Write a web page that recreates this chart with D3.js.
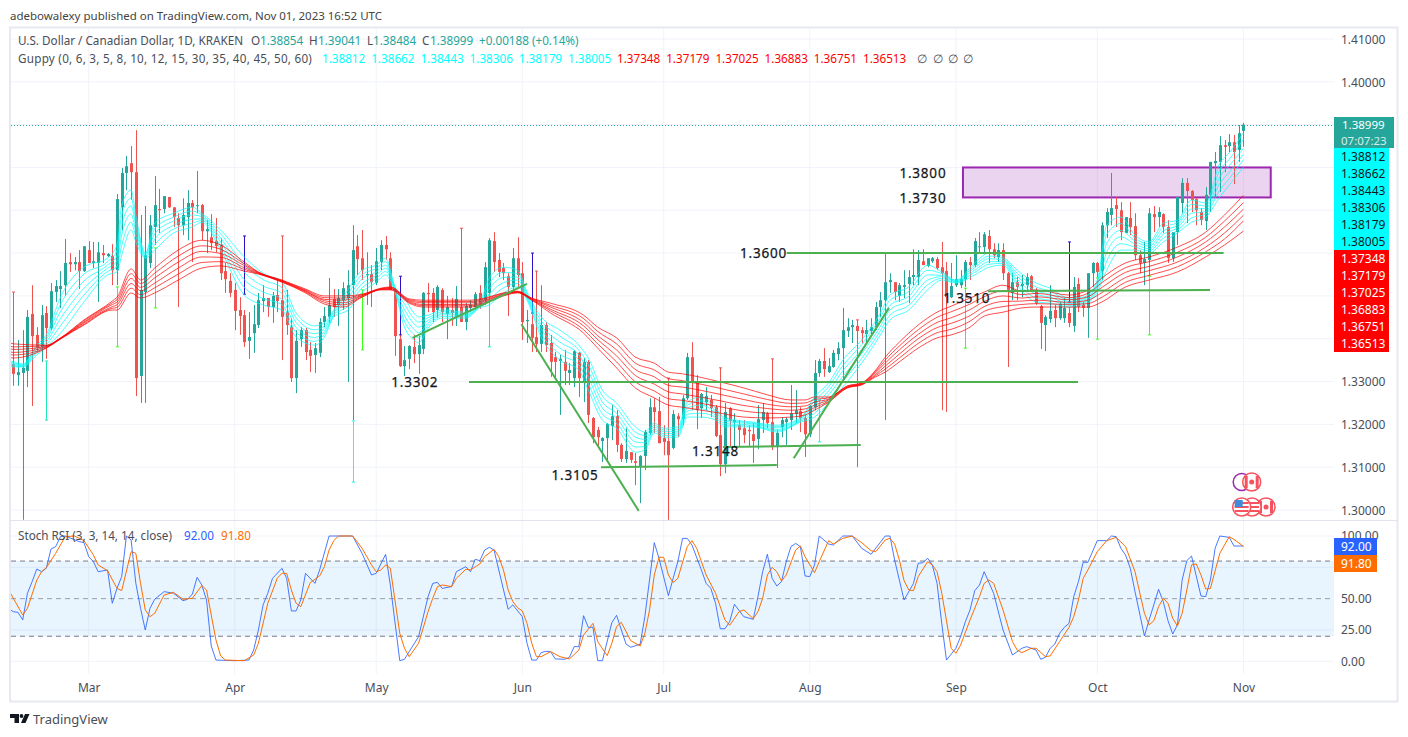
<!DOCTYPE html>
<html>
<head>
<meta charset="utf-8">
<script src="https://cdn.jsdelivr.net/npm/d3@7"></script>
<style>
  html, body { margin: 0; padding: 0; background: #fff; }
  svg { display: block; }
  text { font-family: "Noto Sans", sans-serif; }
</style>
</head>
<body>
<svg id="chart" width="1408" height="737"></svg>
<script>
// candle rows are [open, high, low, close] in pips above 1.3000
const febCandles = [[341,509,290,318],[315,397,290,322],[320,420,-23,332],[325,467,287,451],[458,525,243,406],[409,427,369,378],[381,479,346,455],[460,476,353,425],[425,530,420,511],[509,537,486,523],[516,558,472,523],[525,633,500,577],[579,600,556,574],[574,591,560,579],[579,607,516,558],[558,616,556,616]];
const marCandles = [[607,628,577,577],[577,626,565,581],[577,626,486,602],[600,619,577,595],[593,600,591,598],[593,621,525,560],[560,738,525,726],[707,799,654,787],[787,827,747,803],[810,850,724,789],[789,887,266,308],[313,689,250,514],[509,710,250,595],[577,689,565,665],[661,780,619,712],[703,750,647,700],[703,733,693,733],[731,731,705,707],[707,707,661,684],[682,693,474,665],[665,728,642,689],[684,747,630,717],[717,724,579,707],[710,792,693,712],[712,715,630,651],[651,677,600,656],[637,691,607,623],[628,682,602,616],[619,635,537,553],[558,577,507,539],[535,553,497,507]];
const aprCandles = [[514,530,420,465],[467,497,409,453],[455,467,381,392],[395,462,353,404],[413,479,367,434],[432,507,425,490],[488,525,462,495],[495,495,451,474],[474,509,437,500],[502,537,462,488],[490,640,350,451],[462,514,409,432],[427,448,299,308],[308,420,273,395],[399,427,381,420],[420,425,350,369],[374,392,322,360],[362,390,320,378],[367,448,357,439],[439,474,427,453],[451,542,437,479],[493,516,451,474],[479,516,430,495],[490,532,467,518],[495,560,299,525],[525,665,210,607],[616,642,549,586],[588,654,537,560],[549,602,479,551],[551,572,474,532]];
const mayCandles = [[530,612,525,581],[579,630,560,619],[619,640,584,609],[588,602,514,514],[509,518,360,406],[399,409,334,336],[336,383,313,350],[353,385,329,383],[381,409,343,364],[364,406,318,385],[376,509,364,507],[507,530,462,504],[507,518,439,462],[467,525,448,521],[514,518,439,462],[458,500,399,474],[467,495,430,460],[451,523,430,493],[474,658,439,439],[439,483,420,476],[472,490,462,479],[474,509,467,504],[507,525,470,479],[490,579,479,567],[507,635,502,630],[628,649,556,579],[584,600,544,556],[565,577,537,553],[546,553,453,521],[521,612,514,588],[588,637,521,549]];
const junCandles = [[553,579,397,439],[441,467,390,444],[434,462,369,402],[404,558,369,388],[388,525,369,432],[432,439,369,385],[390,409,311,346],[357,369,304,346],[348,362,222,353],[346,374,292,325],[320,343,292,327],[308,374,287,371],[367,369,264,308],[297,355,252,346],[346,350,203,222],[215,217,156,170],[187,194,147,170],[161,170,112,168],[168,203,112,201],[196,245,163,219],[219,233,135,152],[152,156,112,119],[119,191,110,138],[135,135,110,117],[114,133,58,110],[103,128,16,126],[126,187,93,182],[180,261,175,240],[240,261,180,229],[231,264,156,156]];
const julCandles = [[168,198,128,159],[161,308,-23,128],[145,233,142,224],[219,226,170,212],[212,268,198,261],[261,367,257,357],[357,392,233,299],[299,315,189,233],[238,273,215,271],[252,287,233,266],[257,269,217,238],[240,245,170,173],[175,332,79,107],[107,250,86,229],[238,240,147,208],[205,226,147,210],[198,210,147,187],[191,210,156,175],[187,198,147,184],[177,203,110,161],[166,245,142,212],[210,250,180,229],[226,229,191,203],[205,353,140,147],[147,187,98,180],[194,217,170,210],[205,217,152,212],[210,292,187,226],[224,280,203,233],[231,240,182,215],[215,222,124,177]];
const augCandles = [[177,245,170,243],[240,350,233,320],[320,353,311,348],[348,378,311,329],[322,355,320,336],[334,374,332,367],[364,392,350,378],[378,472,304,420],[418,448,404,427],[427,444,390,432],[430,444,100,418],[420,427,390,413],[411,444,390,420],[418,448,409,427],[427,486,420,474],[474,509,451,490],[490,600,210,532],[532,553,507,537],[532,532,490,509],[500,530,486,525],[521,560,495,525],[528,560,483,544],[544,609,525,549],[544,607,525,584],[581,609,572,572],[570,588,567,588],[581,591,577,588],[586,591,560,565],[567,626,233,553],[558,579,229,497],[497,577,495,523]];
const sepCandles = [[525,595,521,539],[525,560,518,539],[539,584,521,579],[579,591,537,572],[572,635,567,628],[614,649,600,616],[614,649,600,644],[640,654,577,609],[609,623,588,595],[591,623,579,607],[607,623,537,553],[553,556,334,514],[507,553,490,532],[532,544,490,521],[523,549,497,528],[525,553,509,544],[546,549,509,514],[514,518,479,483],[476,479,376,437],[432,455,371,451],[446,525,437,465],[467,479,427,448],[448,486,444,481],[448,495,437,472],[460,474,427,437],[430,544,416,521],[528,542,462,474],[479,486,451,472],[472,553,402,553],[553,579,521,577]];
const octCandles = [[577,579,542,556],[558,672,537,665],[665,705,635,696],[689,787,665,705],[712,731,661,703],[700,719,630,649],[647,684,647,684],[682,719,642,661],[663,693,584,595],[595,607,553,577],[577,626,525,586],[584,705,546,693],[691,710,649,684],[684,707,661,696],[691,693,647,661],[661,677,577,588],[588,649,579,649],[649,731,619,731],[717,775,693,764],[764,775,670,745],[745,747,696,724],[726,729,665,700],[696,705,665,677],[675,754,654,736],[736,813,696,813],[810,836,731,815],[813,873,743,852],[852,864,789,848],[850,878,836,859],[859,876,761,836],[841,899,813,880]];
const novCandles = [[885.4,904.1,848.4,899.9]];

// thin coloured spikes standing beside the candles: [day, high, low, colour]
const spikes = [[7,348,210,"#1de9b6"],[22,521,381,"#39ff14"],[30,612,472,"#39ff14"],[49,640,504,"#2a10c8"],[72,208,65,"#22f5f5"],[74,514,374,"#39ff14"],[82,546,409,"#2a10c8"],[101,502,381,"#1de9b6"],[110,600,460,"#2a10c8"],[171,257,159,"#22f5f5"],[202,518,378,"#39ff14"],[224,626,486,"#2a10c8"],[230,542,399,"#39ff14"],[241,546,409,"#39ff14"]];
const cappedWicks = [0,57,95,111,139,150,161,179];

// Guppy readings: [day, line1 ... line6] top to bottom, pips above 1.3000
const guppyFast = [[-1,350,348,345,342,339,336],[0,346,344,341,339,336,334],[2,341,340,338,337,335,334],[5,385,381,376,371,367,362],[7,409,403,398,392,386,381],[10,497,480,463,447,430,413],[15,567,551,535,518,502,486],[20,588,580,572,565,557,549],[22,619,606,594,581,569,556],[23,712,689,665,642,618,595],[25,747,728,710,691,672,654],[26,689,676,664,651,639,626],[28,600,598,595,593,590,588],[30,670,657,645,632,620,607],[34,693,684,675,665,656,647],[38,707,698,689,679,670,661],[40,693,689,685,680,676,672],[44,654,645,635,626,616,607],[49,591,573,555,538,520,502],[53,553,538,523,509,494,479],[57,532,519,506,493,480,467],[60,460,449,438,426,415,404],[64,430,421,412,403,394,385],[66,437,430,424,417,411,404],[68,467,464,461,457,454,451],[71,514,505,495,486,476,467],[74,560,550,540,529,519,509],[77,572,564,556,548,540,532],[79,588,580,572,565,557,549],[81,521,519,516,514,511,509],[83,495,481,468,454,441,427],[85,460,447,435,422,410,397],[86,451,439,427,414,402,390],[88,455,449,443,437,431,425],[91,467,463,459,456,452,448],[96,462,459,456,454,451,448],[99,486,483,480,478,475,472],[101,542,529,517,504,492,479],[104,567,555,543,531,519,507],[107,560,552,544,537,529,521],[109,509,505,501,498,494,490],[112,451,442,432,423,413,404],[116,420,406,392,378,364,350],[120,385,373,362,350,339,327],[122,355,340,325,310,295,280],[125,280,266,252,238,224,210],[128,250,238,226,215,203,191],[132,194,182,170,159,147,135],[134,182,174,165,157,148,140],[136,203,198,194,189,185,180],[138,191,187,183,178,174,170],[141,194,189,184,180,175,170],[143,252,245,238,231,224,217],[146,264,255,245,236,226,217],[149,238,232,227,221,216,210],[151,215,211,207,202,198,194],[157,205,203,201,198,196,194],[162,198,195,192,188,185,182],[167,215,213,211,209,207,205],[170,264,255,245,236,226,217],[173,297,288,278,269,259,250],[176,350,337,325,312,300,287],[180,397,386,375,365,354,343],[184,460,450,440,429,419,409],[186,502,490,478,467,455,444],[190,521,510,499,489,478,467],[194,572,560,549,537,526,514],[197,556,552,548,545,541,537],[200,537,536,534,533,531,530],[204,577,571,566,560,555,549],[207,600,593,587,580,574,567],[210,591,587,583,580,576,572],[213,560,553,546,539,532,525],[217,530,521,512,504,495,486],[220,518,511,504,497,490,483],[224,495,491,487,482,478,474],[227,497,493,490,486,483,479],[230,537,531,526,520,515,509],[232,665,644,623,602,581,560],[235,684,669,653,638,622,607],[238,642,635,628,621,614,607],[241,626,621,616,610,605,600],[244,670,661,652,644,635,626],[247,677,671,665,659,653,647],[250,724,714,703,693,682,672],[253,717,710,704,697,691,684],[256,810,794,778,763,747,731],[258,834,819,804,789,774,759],[261,881.2,866.2,844.3,830.6,817.9,800.5]];
const guppySlow = [[-1,392,385,378,371,364,357],[0,388,381,375,368,362,355],[7,385,384,382,381,379,378],[10,402,401,401,400,400,399],[15,444,442,439,437,434,432],[21,488,484,480,475,471,467],[22,497,491,485,479,473,467],[25,563,552,541,529,518,507],[27,537,529,520,512,503,495],[30,565,553,542,530,519,507],[35,607,593,579,565,551,537],[40,630,617,604,591,578,565],[44,619,609,599,590,580,570],[49,579,575,571,566,562,558],[52,556,555,554,553,552,551],[57,537,536,535,534,533,532],[62,516,514,512,511,509,507],[66,500,496,492,489,485,481],[70,500,495,490,484,479,474],[74,504,503,501,500,498,497],[78,518,517,516,516,515,514],[80,521,520,518,517,515,514],[84,493,491,489,487,485,483],[87,490,487,484,480,477,474],[94,490,487,484,480,477,474],[97,490,487,484,480,477,474],[100,495,493,490,488,485,483],[104,507,506,504,503,501,500],[107,511,510,509,509,508,507],[110,495,494,493,492,491,490],[114,483,478,474,469,465,460],[121,455,447,438,430,421,413],[124,427,417,407,398,388,378],[128,402,388,374,360,346,332],[132,357,343,328,314,299,285],[136,343,327,311,294,278,262],[139,322,307,291,276,260,245],[142,318,302,287,271,256,240],[150,299,284,270,255,241,226],[155,285,271,258,244,231,217],[160,269,258,247,237,226,215],[165,257,249,241,233,225,217],[168,257,250,243,236,229,222],[170,264,258,252,245,239,233],[173,264,262,259,257,254,252],[177,290,289,288,287,286,285],[180,297,296,295,294,293,292],[183,327,324,321,317,314,311],[185,357,350,343,336,329,322],[188,392,383,374,364,355,346],[192,432,421,410,400,389,378],[196,462,450,438,426,414,402],[199,476,463,449,436,422,409],[203,495,481,468,454,441,427],[206,509,498,487,475,464,453],[210,525,512,500,487,475,462],[214,511,503,495,488,480,472],[217,514,506,498,490,482,474],[224,502,496,491,485,480,474],[228,514,506,498,490,482,474],[231,542,531,520,508,497,486],[236,577,566,555,543,532,521],[241,591,580,569,559,548,537],[247,614,602,591,579,568,556],[253,649,637,626,614,603,591],[257,689,675,661,647,633,619],[261,734.8,717.9,702.5,688.3,675.1,651.3]];

// Stoch RSI readings: [day, value]
const stochK = [[-1,42],[0,39.6],[1,39.1],[2,33],[3,54.3],[4,63.6],[5,73.7],[6,71.5],[7,74.2],[8,89.6],[9,91.5],[10,99.5],[11,100],[14,95.5],[15,94.7],[16,83.5],[17,79.5],[18,71.5],[20,72.9],[21,46.3],[22,58.2],[23,67.6],[24,100],[25,96.8],[26,62.2],[27,42.3],[28,25],[29,42.3],[30,49.5],[32,55.6],[34,54.3],[36,48.4],[37,49.5],[38,53.7],[39,67],[40,60.9],[41,48.9],[42,12.2],[43,1],[47,0.5],[50,1],[51,9],[52,25],[53,45],[54,54.3],[55,66.2],[57,74.2],[58,66.2],[59,40.2],[60,40.2],[61,49],[62,70.2],[64,62.2],[65,72.9],[67,100],[72,100],[74,86.2],[76,68.9],[77,70.2],[79,85.4],[80,60.9],[82,0.5],[83,1.6],[84,7.7],[86,19.7],[88,51.6],[89,62.2],[90,63],[91,58.2],[93,59.6],[94,71.5],[96,75.5],[97,71.5],[98,81.4],[99,80.3],[100,88.8],[101,91],[102,88.8],[105,41.5],[106,45],[108,35.6],[109,14.4],[110,1],[111,1],[112,6.9],[113,8],[114,7.7],[115,1.9],[117,1.6],[118,3.2],[119,11.7],[120,11.7],[121,36.4],[122,27.1],[123,27.1],[124,0.5],[125,0.5],[127,30.9],[128,36.7],[130,13.8],[131,11.2],[133,13.6],[134,35.6],[136,94.7],[137,82.2],[139,52.4],[140,66.2],[141,79.5],[142,98.1],[143,98.1],[144,92.8],[146,72.9],[147,62.2],[148,58.2],[149,46.3],[150,26],[151,26],[152,31.6],[153,45.5],[155,35.6],[157,33.5],[158,51.6],[159,71.5],[160,85.4],[161,66.2],[162,60.1],[163,63.6],[164,79.5],[165,91.5],[166,94.1],[167,91.5],[168,68.1],[169,67.6],[170,76.9],[171,100],[173,93.6],[174,92.8],[176,100],[178,100],[180,90.2],[182,85.4],[185,100],[186,100],[187,80.9],[189,48.9],[191,62.2],[192,78.2],[193,78.7],[194,82.2],[195,76.9],[196,62.2],[197,30],[198,1],[200,10.4],[201,19.7],[202,31.6],[203,41],[204,56.4],[205,60.9],[206,71.5],[208,54.3],[210,25],[212,5],[214,10.4],[215,11.7],[217,9],[218,1.6],[219,3.2],[220,10.4],[221,13.8],[222,22.3],[223,27.1],[224,30.3],[225,51.6],[226,63.6],[227,79],[228,79],[230,96.3],[232,96.3],[233,100],[234,99.5],[235,90.2],[236,84.8],[237,74.2],[238,55.6],[240,20.2],[241,33],[243,57.4],[244,47.6],[245,32.4],[246,21.8],[247,29],[248,64.9],[249,80.3],[250,84],[252,52.1],[253,51.6],[254,64.9],[255,90.2],[256,100],[258,98.9],[259,92],[261,92]];
const stochD = [[-1,57],[2,37],[3,42.3],[5,64.9],[6,71.5],[7,74.7],[9,86.2],[11,99.5],[13,100],[15,96.3],[17,84.8],[18,76.9],[20,72.3],[22,58.2],[23,56.4],[25,87.5],[26,86.2],[27,62.2],[28,41],[29,35.6],[30,38.3],[32,52.9],[34,55],[36,49.5],[38,50.3],[40,60.4],[41,56.9],[43,17],[44,4.3],[45,1],[49,0.5],[51,5],[52,14.4],[54,46.3],[56,66.2],[57,70.2],[58,70.2],[59,56.9],[60,46.3],[61,43.6],[63,62.8],[65,68.1],[66,75.5],[67,88.8],[68,96.3],[69,100],[72,100],[74,90.2],[76,76.9],[77,71.5],[78,72.9],[79,76.9],[80,74.2],[82,22.3],[83,10.4],[84,3.7],[86,14.4],[88,39.6],[89,50.3],[90,59.6],[91,60.9],[93,59.6],[94,66.2],[96,73.4],[97,73],[99,77.7],[100,83.5],[102,89.4],[103,83.5],[104,72.9],[105,56.9],[106,47.6],[107,42.8],[108,40.2],[109,30.3],[110,14.4],[111,3.7],[112,3.7],[114,7.7],[116,3.7],[118,1.9],[120,9],[121,21],[123,30.3],[124,15.7],[126,4.5],[127,14.4],[128,27.7],[129,31.1],[131,16.5],[133,12.2],[134,22.3],[135,41],[136,68.9],[137,83],[138,83],[139,68.9],[140,62.8],[141,66.2],[143,91.5],[144,96.3],[145,90.2],[147,68.9],[149,54.3],[151,33],[152,28.7],[154,39.6],[155,41],[157,34],[158,39.6],[159,50.3],[160,68.9],[161,75],[162,71.5],[163,64.1],[164,68.9],[166,88.8],[167,92],[168,83.5],[170,70.7],[171,79.5],[173,96.3],[174,93.6],[176,98.1],[178,100],[180,94.7],[182,88.3],[183,87.5],[185,96.8],[186,98.1],[187,93.6],[188,80.9],[189,64.4],[190,56.9],[191,56.4],[192,67.6],[194,79.5],[195,76.9],[196,71.5],[197,54.3],[199,10.4],[200,6.4],[201,13],[203,33],[205,51.6],[206,62.2],[207,64.9],[208,62.2],[210,41],[212,15.7],[213,9],[214,6.9],[216,10.4],[217,10.4],[219,3.7],[220,4.3],[222,15.7],[224,27.1],[225,35.6],[226,48.9],[227,66.2],[228,72.9],[230,87.5],[232,96.3],[234,98.9],[236,91.5],[238,71.5],[240,38.3],[241,29],[242,32.4],[243,43.6],[244,50.3],[245,46.3],[246,34.3],[247,28.2],[248,38.3],[249,56.9],[250,76.9],[251,77.7],[252,68.9],[253,57.7],[254,58.2],[256,86.2],[258,99.5],[259,97.3],[261,91.8]];

// hand-drawn trend lines on the chart: [day1, pips1, day2, pips2]
const greenLines = [[164.1,600,256.8,600],[206.8,511,253.9,514],[96.7,299,225.9,299],[124.7,100,162,105],[150.6,147,179.8,152],[107.8,434,132.7,-2],[84.7,402,109,528],[165.6,121,185.8,472]];
const levelLabels = [["1.3800",193,788],["1.3730",193,728],["1.3600",159.2,600],["1.3510",202.3,495],["1.3302",85.2,299],["1.3105",119.2,82],["1.3148",149,137]];
const boxRange = { day1: 201.5, day2: 266.8, top: 1.38, bottom: 1.373 };

const monthDays = [16,47,77,108,138,169,200,230,261];
const monthNames = ["Mar","Apr","May","Jun","Jul","Aug","Sep","Oct","Nov"];
const priceTicks = [1.30,1.31,1.32,1.33,1.40,1.41];
const priceGrid = [1.30,1.31,1.32,1.33,1.34,1.35,1.36,1.37,1.38,1.39,1.40,1.41];
const stochTicks = [0,25,50,100];
const stochGrid = [0,25,75,100];
const fastLabels = ["1.38812","1.38662","1.38443","1.38306","1.38179","1.38005"];
const slowLabels = ["1.37348","1.37179","1.37025","1.36883","1.36751","1.36513"];
const lastPrice = 1.38999;

const candles = [].concat(febCandles, marCandles, aprCandles, mayCandles, junCandles, julCandles, augCandles, sepCandles, octCandles, novCandles);
const price = pips => 1.3 + pips / 10000;

const svg = d3.select("#chart");
const TEAL = "#26a69a", RED = "#ef5350", GRID = "#f0f3fa", TEXT = "#4a4e57";

const x = d3.scaleLinear().domain([0, 261]).range([13.3, 1243.4]);
const y = d3.scaleLinear().domain([1.30, 1.41]).range([510, 39]);
const yStoch = d3.scaleLinear().domain([0, 100]).range([661.3, 536]);

// clip regions for the two panes
const defs = svg.append("defs");
defs.append("clipPath").attr("id", "pricePane").append("rect").attr("x", 11).attr("y", 29).attr("width", 1323).attr("height", 491);
defs.append("clipPath").attr("id", "stochPane").append("rect").attr("x", 11).attr("y", 522).attr("width", 1323).attr("height", 152);

svg.append("text").attr("x", 10).attr("y", 19.5).attr("font-size", 11.5).attr("fill", "#444").text("adebowalexy published on TradingView.com, Nov 01, 2023 16:52 UTC");

// grid
svg.append("g").selectAll("line").data(monthDays).enter().append("line")
  .attr("x1", d => x(d)).attr("x2", d => x(d)).attr("y1", 29).attr("y2", 674).attr("stroke", GRID);
svg.append("g").selectAll("line").data(priceGrid).enter().append("line")
  .attr("x1", 11).attr("x2", 1334).attr("y1", d => y(d)).attr("y2", d => y(d)).attr("stroke", GRID);
svg.append("g").selectAll("line").data(stochGrid).enter().append("line")
  .attr("x1", 11).attr("x2", 1334).attr("y1", d => yStoch(d)).attr("y2", d => yStoch(d)).attr("stroke", GRID);

// frame and pane divider
svg.append("rect").attr("x", 10).attr("y", 27.5).attr("width", 1387.5).attr("height", 674)
  .attr("fill", "none").attr("stroke", "#e6e9f0").attr("stroke-width", 2);
svg.append("line").attr("x1", 11).attr("x2", 1397).attr("y1", 520.5).attr("y2", 520.5).attr("stroke", "#e0e3eb");

// last price dotted line
svg.append("line").attr("x1", 11).attr("x2", 1334).attr("y1", Math.round(y(lastPrice)) + 0.5).attr("y2", Math.round(y(lastPrice)) + 0.5)
  .attr("stroke", TEAL).attr("stroke-dasharray", "1,2");

const pricePane = svg.append("g").attr("clip-path", "url(#pricePane)");

// purple range box
pricePane.append("rect")
  .attr("x", x(boxRange.day1)).attr("y", y(boxRange.top))
  .attr("width", x(boxRange.day2) - x(boxRange.day1)).attr("height", y(boxRange.bottom) - y(boxRange.top))
  .attr("fill", "#9c27b0").attr("fill-opacity", 0.2).attr("stroke", "#9c27b0").attr("stroke-width", 2);

// candles
const bar = pricePane.append("g").selectAll("g").data(candles).enter().append("g")
  .attr("fill", d => d[3] >= d[0] ? TEAL : RED)
  .attr("stroke", d => d[3] >= d[0] ? TEAL : RED);
bar.append("line")
  .attr("x1", (d, i) => Math.round(x(i)) + 0.5).attr("x2", (d, i) => Math.round(x(i)) + 0.5)
  .attr("y1", d => y(price(d[1]))).attr("y2", d => y(price(d[2])));
bar.append("rect").attr("stroke", "none")
  .attr("x", (d, i) => Math.round(x(i)) - 1).attr("width", 3)
  .attr("y", d => y(price(Math.max(d[0], d[3]))))
  .attr("height", d => Math.max(1, Math.abs(y(price(d[0])) - y(price(d[3])))));

// small caps on the longest wicks
pricePane.append("g").selectAll("line").data(cappedWicks).enter().append("line")
  .attr("x1", d => Math.round(x(d)) - 1).attr("x2", d => Math.round(x(d)) + 2)
  .attr("y1", d => y(price(candles[d][1]))).attr("y2", d => y(price(candles[d][1])))
  .attr("stroke", RED);

// coloured spikes
const spike = pricePane.append("g").selectAll("g").data(spikes).enter().append("g").attr("stroke", d => d[3]);
spike.append("line").attr("x1", d => Math.round(x(d[0])) + 0.5).attr("x2", d => Math.round(x(d[0])) + 0.5)
  .attr("y1", d => y(price(d[1]))).attr("y2", d => y(price(d[2])));
spike.selectAll(".cap").data(d => [[d[0], d[1]], [d[0], d[2]]]).enter().append("line")
  .attr("x1", d => Math.round(x(d[0])) - 1).attr("x2", d => Math.round(x(d[0])) + 2)
  .attr("y1", d => y(price(d[1]))).attr("y2", d => y(price(d[1])));

// Guppy ribbons
function drawRibbon(rows, color) {
  d3.range(1, 7).forEach(n => {
    const line = d3.line().x(r => x(r[0])).y(r => y(price(r[n]))).curve(d3.curveMonotoneX);
    pricePane.append("path").attr("d", line(rows)).attr("fill", "none")
      .attr("stroke", color).attr("stroke-opacity", 0.7).attr("stroke-width", 1);
  });
}
drawRibbon(guppyFast, "#00ffff");
drawRibbon(guppySlow, "#ff0000");

// trend lines
pricePane.append("g").selectAll("line").data(greenLines).enter().append("line")
  .attr("x1", d => x(d[0])).attr("y1", d => y(price(d[1])))
  .attr("x2", d => x(d[2])).attr("y2", d => y(price(d[3])))
  .attr("stroke", "#4caf50").attr("stroke-width", 2);

// level labels
svg.append("g").selectAll("text").data(levelLabels).enter().append("text")
  .attr("x", d => x(d[1])).attr("y", d => y(price(d[2])) + 5)
  .attr("text-anchor", "middle").attr("font-size", 13.5).attr("letter-spacing", 0.8)
  .attr("fill", "#131722").attr("stroke", "#131722").attr("stroke-width", 0.25).text(d => d[0]);

// currency flags
function drawFlag(cx, cy, kind) {
  const g = svg.append("g");
  g.append("circle").attr("cx", cx).attr("cy", cy).attr("r", 9).attr("fill", "#fff").attr("stroke", "#f7525f").attr("stroke-width", 1.5);
  if (kind === "ca") {
    g.append("rect").attr("x", cx - 7).attr("y", cy - 6).attr("width", 3).attr("height", 12).attr("fill", "#f7525f");
    g.append("rect").attr("x", cx + 4).attr("y", cy - 6).attr("width", 3).attr("height", 12).attr("fill", "#f7525f");
    g.append("circle").attr("cx", cx).attr("cy", cy).attr("r", 2.5).attr("fill", "#f7525f");
  } else {
    [-5, -1, 3].forEach(d => g.append("rect").attr("x", cx - 7).attr("y", cy + d).attr("width", 14).attr("height", 2).attr("fill", "#f7525f"));
    if (kind === "us") g.append("rect").attr("x", cx - 7).attr("y", cy - 7).attr("width", 8).attr("height", 7).attr("fill", "#3d8bdb");
  }
}
svg.append("circle").attr("cx", 1241.7).attr("cy", 482).attr("r", 8.5).attr("fill", "#fff").attr("stroke", "#9c27b0").attr("stroke-width", 1.5);
drawFlag(1251.7, 482, "ca");
drawFlag(1266, 507, "ca");
drawFlag(1252, 507, "stripes");
drawFlag(1241.7, 507, "us");

// Stoch RSI pane
const stochPane = svg.append("g").attr("clip-path", "url(#stochPane)");
stochPane.append("rect").attr("x", 11).attr("width", 1323).attr("y", yStoch(80)).attr("height", yStoch(20) - yStoch(80))
  .attr("fill", "#2196f3").attr("fill-opacity", 0.1);
[80, 50, 20].forEach(v => {
  stochPane.append("line").attr("x1", 11).attr("x2", 1334).attr("y1", yStoch(v)).attr("y2", yStoch(v))
    .attr("stroke", "#787b86").attr("stroke-opacity", v === 50 ? 0.7 : 1).attr("stroke-dasharray", "5,4");
});
const stochLine = d3.line().x(d => x(d[0])).y(d => yStoch(d[1]));
stochPane.append("path").attr("d", stochLine(stochK)).attr("fill", "none").attr("stroke", "#2962ff").attr("stroke-opacity", 0.85).attr("stroke-width", 1);
stochPane.append("path").attr("d", stochLine(stochD)).attr("fill", "none").attr("stroke", "#ff6d00").attr("stroke-width", 1);

// axes
const priceAxis = d3.axisRight(y).tickValues(priceTicks).tickSize(0).tickPadding(7).tickFormat(d3.format(".5f"));
const stochAxis = d3.axisRight(yStoch).tickValues(stochTicks).tickSize(0).tickPadding(7).tickFormat(d3.format(".2f"));
const timeAxis = d3.axisBottom(x).tickValues(monthDays).tickSize(0).tickPadding(9).tickFormat((d, i) => monthNames[i]);
[svg.append("g").attr("transform", "translate(1334,0.5)").call(priceAxis),
 svg.append("g").attr("transform", "translate(1334,0)").call(stochAxis),
 svg.append("g").attr("transform", "translate(0,674)").call(timeAxis)].forEach(g => {
  g.select(".domain").remove();
  g.selectAll("text").attr("font-size", 12).attr("fill", TEXT).attr("font-family", '"Noto Sans", sans-serif');
});

// price badges
function badge(top, h, w, fill, color, label, weight) {
  svg.append("rect").attr("x", 1334).attr("y", top).attr("width", w).attr("height", h).attr("fill", fill);
  svg.append("text").attr("x", 1341).attr("y", top + h / 2 + 4).attr("font-size", 12).attr("fill", color).attr("font-weight", weight || 400).text(label);
}
fastLabels.forEach((t, i) => badge(148 + i * 17, 17, 55, "#00ffff", "#131722", t));
slowLabels.forEach((t, i) => badge(250 + i * 17, 17, 55, "#ff0000", "#fff", t));
svg.append("rect").attr("x", 1334).attr("y", 117).attr("width", 60).attr("height", 31).attr("fill", TEAL);
svg.append("text").attr("x", 1342).attr("y", 129).attr("font-size", 11.5).attr("fill", "#fff").text("1.38999");
svg.append("text").attr("x", 1341).attr("y", 145).attr("font-size", 11.5).attr("fill", "#d4eeeb").text("07:07:23");
badge(538, 17, 43, "#2962ff", "#fff", "92.00");
badge(555, 17, 43, "#ff6d00", "#fff", "91.80");

// legend rows
function legend(xPos, yPos, label, color, spacing) {
  svg.append("text").attr("x", xPos).attr("y", yPos).attr("font-size", 11.7).attr("letter-spacing", spacing || 0).attr("fill", color).text(label);
}
legend(18, 45, "U.S. Dollar / Canadian Dollar, 1D, KRAKEN", TEXT);
legend(251, 45, "O", TEXT); legend(260, 45, "1.38854", TEAL);
legend(309, 45, "H", TEXT); legend(318, 45, "1.39041", TEAL);
legend(367, 45, "L", TEXT); legend(373, 45, "1.38484", TEAL);
legend(422, 45, "C", TEXT); legend(430, 45, "1.38999", TEAL);
legend(479, 45, "+0.00188 (+0.14%)", TEAL);
legend(18, 63, "Guppy (0, 6, 3, 5, 8, 10, 12, 15, 30, 35, 40, 45, 50, 60)", TEXT, 0.25);
fastLabels.forEach((t, i) => legend(322 + i * 49.2, 63, t, "#00ffff"));
slowLabels.forEach((t, i) => legend(617 + i * 49.2, 63, t, "#ff0000"));
[917, 933, 948, 963].forEach(p => legend(p, 63, "∅", TEXT));
legend(18, 540, "Stoch RSI (3, 3, 14, 14, close)", TEXT);
legend(184, 540, "92.00", "#2962ff");
legend(221, 540, "91.80", "#ff6d00");

// TradingView logo
const logo = svg.append("g").attr("fill", "#131722");
logo.append("path").attr("d", "M10 714h9v9h-4.5v-5H10z");
logo.append("circle").attr("cx", 21.5).attr("cy", 716).attr("r", 1.9);
logo.append("path").attr("d", "M25 714h4.5l-4 9H21z");
svg.append("text").attr("x", 33).attr("y", 724).attr("font-size", 13).attr("fill", "#4a4e57").text("TradingView");
</script>
</body>
</html>
